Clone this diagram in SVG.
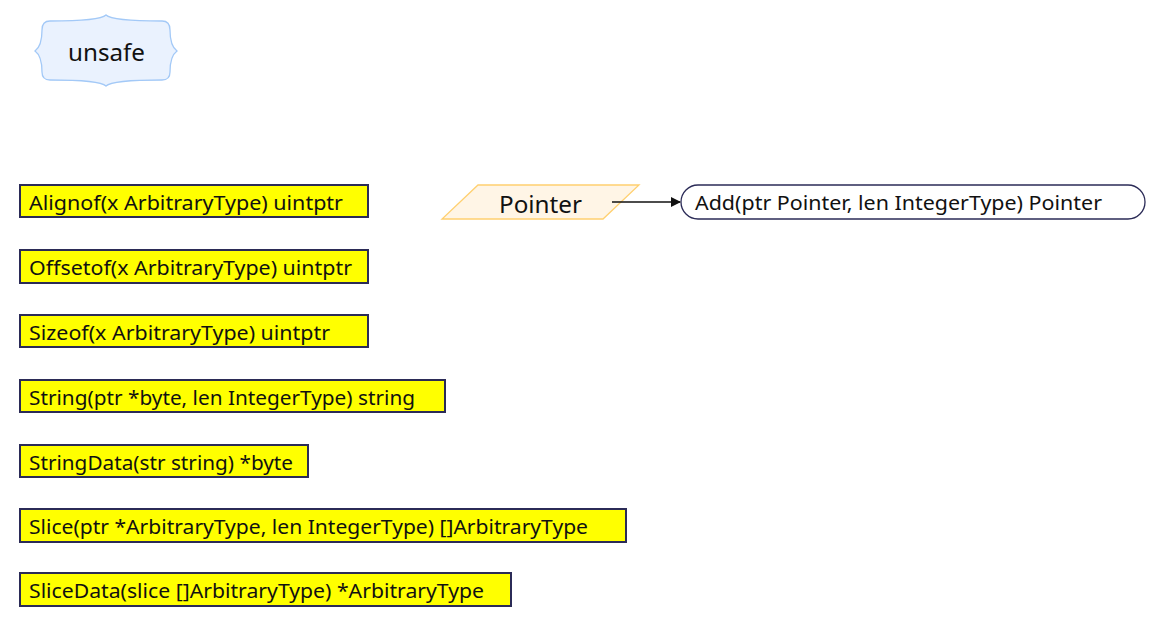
<svg xmlns="http://www.w3.org/2000/svg" width="1156" height="619" viewBox="0 0 1156 619">
<style>
.fn rect{fill:#ffff00;stroke:#2b2b57;stroke-width:2}
text{font-family:"Noto Sans","Open Sans","Liberation Sans",sans-serif;fill:#111}
.t{font-size:20px}
</style>
<defs>
<marker id="arr" markerWidth="10" markerHeight="10" refX="9" refY="5" orient="auto" markerUnits="userSpaceOnUse">
<path d="M0,0 L10,5 L0,10 Z" fill="#111"/>
</marker>
</defs>
<rect width="1156" height="619" fill="#fff"/>
<g id="unsafe">
<path d="M50,21 Q100,21 106,15 Q112,21 162,21 Q170,21 170,30 Q170,46 177,51 Q170,56 170,72 Q170,80 162,80 Q112,80 106,86 Q100,80 50,80 Q42,80 42,72 Q42,56 35,51 Q42,46 42,30 Q42,21 50,21 Z" fill="#eaf2fe" stroke="#a3c9f7" stroke-width="1.3"/>
<text x="68" y="61" font-size="24" textLength="77" lengthAdjust="spacingAndGlyphs">unsafe</text>
</g>
<g id="alignof" class="fn"><rect x="20" y="185" width="348" height="32"/><text class="t" x="29" y="210" textLength="314" lengthAdjust="spacingAndGlyphs">Alignof(x ArbitraryType) uintptr</text></g>
<g id="offsetof" class="fn"><rect x="20" y="250" width="348" height="33"/><text class="t" x="29" y="275" textLength="323" lengthAdjust="spacingAndGlyphs">Offsetof(x ArbitraryType) uintptr</text></g>
<g id="sizeof" class="fn"><rect x="20" y="315" width="348" height="32"/><text class="t" x="29" y="340" textLength="301" lengthAdjust="spacingAndGlyphs">Sizeof(x ArbitraryType) uintptr</text></g>
<g id="string" class="fn"><rect x="20" y="380" width="425" height="32"/><text class="t" x="29" y="405" textLength="386" lengthAdjust="spacingAndGlyphs">String(ptr *byte, len IntegerType) string</text></g>
<g id="stringdata" class="fn"><rect x="20" y="445" width="288" height="32"/><text class="t" x="29" y="470" textLength="264" lengthAdjust="spacingAndGlyphs">StringData(str string) *byte</text></g>
<g id="slice" class="fn"><rect x="20" y="509" width="606" height="33"/><text class="t" x="29" y="534" textLength="559" lengthAdjust="spacingAndGlyphs">Slice(ptr *ArbitraryType, len IntegerType) []ArbitraryType</text></g>
<g id="slicedata" class="fn"><rect x="20" y="573" width="491" height="33"/><text class="t" x="29" y="598" textLength="455" lengthAdjust="spacingAndGlyphs">SliceData(slice []ArbitraryType) *ArbitraryType</text></g>
<g id="pointer">
<path d="M478,185 L639,185 L603,219 L442,219 Z" fill="#fff5e6" stroke="#ffd070" stroke-width="1.3"/>
<text x="499" y="213" font-size="24" textLength="83" lengthAdjust="spacingAndGlyphs">Pointer</text>
</g>
<g id="add">
<rect x="681" y="185" width="464" height="34" rx="17" ry="17" fill="#fff" stroke="#2b2b57" stroke-width="1.3"/>
<text class="t" x="695" y="210" textLength="407" lengthAdjust="spacingAndGlyphs">Add(ptr Pointer, len IntegerType) Pointer</text>
</g>
<g id="connectors">
<line x1="612" y1="202" x2="680" y2="202" stroke="#111" stroke-width="1.3" marker-end="url(#arr)"/>
</g>
</svg>
